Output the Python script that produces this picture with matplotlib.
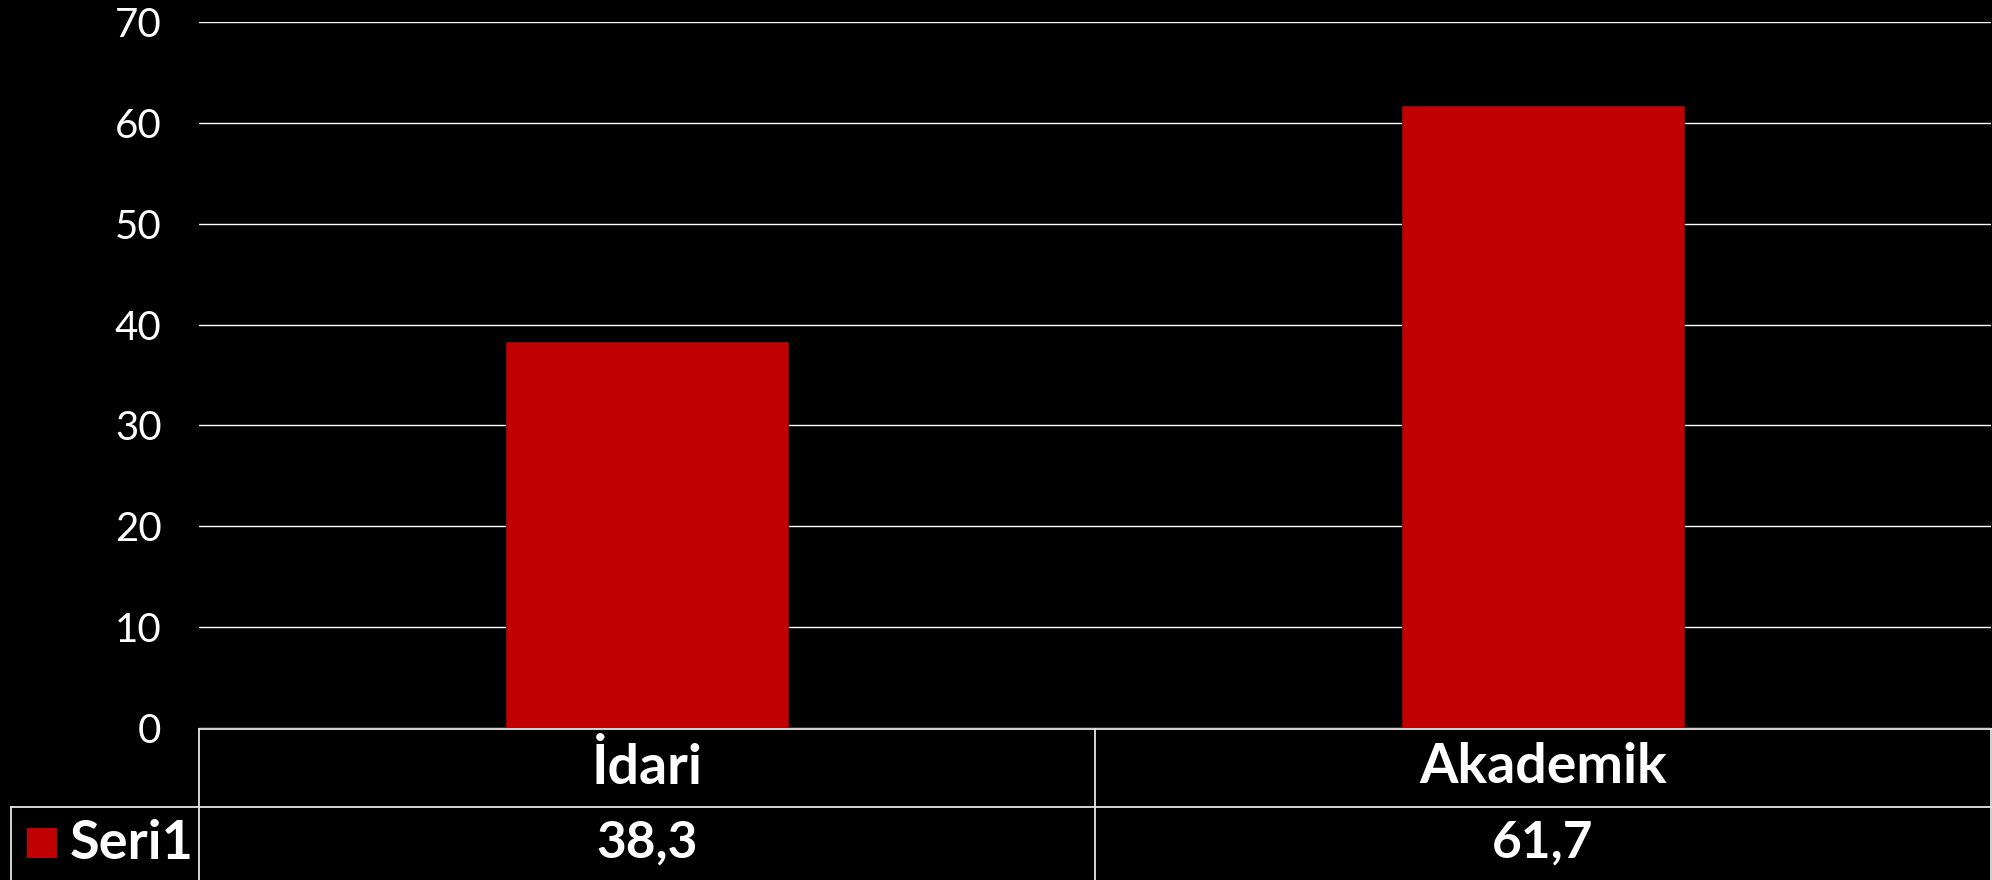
import numpy as np
import matplotlib.pyplot as plt
from matplotlib.transforms import blended_transform_factory
from matplotlib.patches import Rectangle

categories = ['İdari', 'Akademik']
values = [38.3, 61.7]
value_labels = ['38,3', '61,7']
series_name = 'Seri1'
y_ticks = [0, 10, 20, 30, 40, 50, 60, 70]

W, H = 1992, 880
red = '#C00000'
line_c = '#E6E6E6'

plt.rcParams['font.family'] = ['Lato', 'DejaVu Sans']

fig = plt.figure(figsize=(W / 100, H / 100), dpi=100, facecolor='black')

# plot area in pixels: left 199, right 1991, zero at y=728, 70 at y=22
ax = fig.add_axes([199 / W, (H - 728) / H, (1991 - 199) / W, (728 - 22) / H])
ax.set_facecolor('black')
x = np.arange(len(categories))
ax.bar(x, values, width=0.315, color=red, edgecolor='#A00000', linewidth=0.6, zorder=3)
ax.set_xlim(-0.5, len(categories) - 0.5)
ax.set_ylim(0, 70)
ax.set_yticks(y_ticks)
ax.set_yticklabels([str(t) for t in y_ticks], color='white', fontsize=29, fontweight='normal')
ax.tick_params(axis='y', length=0, pad=27)
ax.set_xticks([])
for s in ax.spines.values():
    s.set_visible(False)
ax.yaxis.grid(True, color='white', linewidth=1.0, zorder=0)
ax.set_axisbelow(True)

# data table below the plot
tr = blended_transform_factory(ax.transData, fig.transFigure)
def fy(py):
    return (H - py) / H

row1_top, row2_top, row2_bot = 729, 807, 885
edges = [-0.5 + i for i in range(len(categories) + 1)]
lw = 1.3
for yy in (row1_top, row2_top):
    fig.add_artist(plt.Line2D([edges[0], edges[-1]], [fy(yy), fy(yy)], transform=tr,
                              color=line_c, linewidth=lw))
for e in edges:
    fig.add_artist(plt.Line2D([e, e], [fy(row1_top), fy(row2_bot)], transform=tr,
                              color=line_c, linewidth=lw))
# legend cell extension to the left
fig.add_artist(plt.Line2D([11 / W, 199 / W], [fy(row2_top), fy(row2_top)],
                          transform=fig.transFigure, color=line_c, linewidth=lw))
fig.add_artist(plt.Line2D([11 / W, 11 / W], [fy(row2_top), fy(row2_bot)],
                          transform=fig.transFigure, color=line_c, linewidth=lw))

for i, (c, v) in enumerate(zip(categories, value_labels)):
    fig.text(i, fy(767), c, transform=tr, ha='center', va='center', color='white',
             fontsize=40, fontweight='bold')
    fig.text(i, fy(843), v, transform=tr, ha='center', va='center', color='white',
             fontsize=37, fontweight='bold')

fig.add_artist(Rectangle((27 / W, fy(858)), 30 / W, 30 / H, transform=fig.transFigure,
                         facecolor=red, edgecolor='none'))
fig.text(70 / W, fy(843), series_name, ha='left', va='center', color='white',
         fontsize=39, fontweight='bold')

fig.savefig('out.png', dpi=100, facecolor='black')
